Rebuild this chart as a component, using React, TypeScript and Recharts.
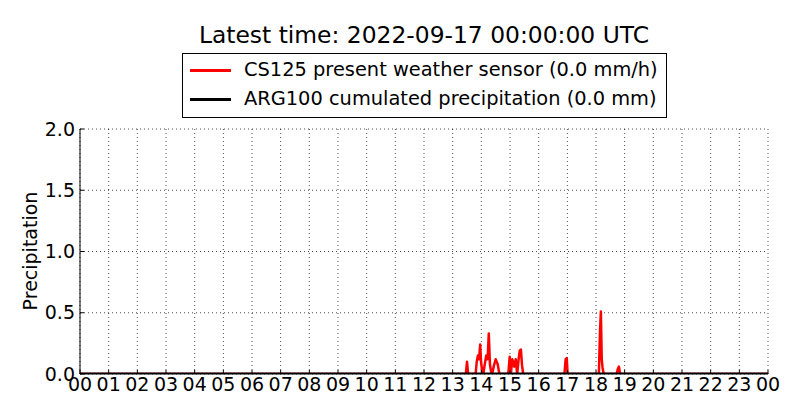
import React from "react";
import { LineChart, Line, XAxis, YAxis, CartesianGrid } from "recharts";

// hours of day (UTC) and CS125 precipitation intensity, mm/h
const sensorHours = [
  0, 13.46, 13.5, 13.54, 13.58, 13.8, 13.84, 13.88, 13.92, 13.96, 13.99, 14.03, 14.07, 14.12,
  14.17, 14.22, 14.26, 14.3, 14.34, 14.38, 14.43, 14.5, 14.57, 14.63, 14.68, 14.74,
  14.94, 14.99, 15.03, 15.08, 15.15, 15.2, 15.25, 15.3, 15.34, 15.38, 15.42, 15.46, 15.51,
  16.9, 16.94, 16.98, 17.01, 18.1, 18.14, 18.17, 18.2, 18.23, 18.27, 18.31,
  18.72, 18.76, 18.8, 18.84, 24,
];
const sensorValues = [
  0, 0, 0.1, 0, 0, 0, 0.1, 0.15, 0.12, 0.24, 0.1, 0.02, 0, 0.08,
  0.15, 0.12, 0.33, 0.08, 0.02, 0, 0.06, 0.12, 0.08, 0, 0, 0,
  0, 0.14, 0, 0.12, 0.06, 0.12, 0, 0.12, 0.19, 0.2, 0.07, 0, 0,
  0, 0.12, 0.13, 0, 0, 0.35, 0.51, 0.12, 0.05, 0, 0,
  0, 0.04, 0.06, 0, 0,
];
// ARG100 cumulated precipitation, mm
const gaugeHours = [0, 24];
const gaugeValues = [0, 0];

const hourTicks = [0, 1, 2, 3, 4, 5, 6, 7, 8, 9, 10, 11, 12, 13, 14, 15, 16, 17, 18, 19, 20, 21, 22, 23, 24];
const valueTicks = [0, 0.5, 1, 1.5, 2];

const sensorData = sensorHours.map((t, i) => ({ t, v: sensorValues[i] }));
const gaugeData = gaugeHours.map((t, i) => ({ t, v: gaugeValues[i] }));

const FONT = "DejaVu Sans";

const BottomTick = (props: any) => {
  const { x, y, payload } = props;
  const label = String(payload.value % 24).padStart(2, "0");
  return (
    <g>
      <line x1={x} x2={x} y1={y - 4} y2={y - 8} stroke="#000" />
      <text x={x} y={y} dy="0.71em" textAnchor="middle" fontSize={19} fill="#000" fontFamily={FONT}>
        {label}
      </text>
    </g>
  );
};

const LeftTick = (props: any) => {
  const { x, y, payload } = props;
  return (
    <g>
      <line x1={x + 5} x2={x + 9} y1={y} y2={y} stroke="#000" />
      <text x={x} y={y} dy="0.355em" textAnchor="end" fontSize={19} fill="#000" fontFamily={FONT}>
        {payload.value.toFixed(1)}
      </text>
    </g>
  );
};

const TopTick = (props: any) => {
  const { x, y } = props;
  return <line x1={x} x2={x} y1={y} y2={y + 4} stroke="#000" />;
};

const RightTick = (props: any) => {
  const { x, y } = props;
  return <line x1={x} x2={x - 4} y1={y} y2={y} stroke="#000" />;
};

export default function App() {
  return (
    <div style={{ position: "absolute", left: 0, top: 0, width: 800, height: 420, background: "#fff", fontFamily: FONT }}>
      <div style={{ position: "absolute", left: 0, width: 848, top: 21, textAlign: "center", fontSize: 23.4, lineHeight: "28px" }}>
        Latest time: 2022-09-17 00:00:00 UTC
      </div>
      <div
        style={{
          position: "absolute", left: 182, top: 53, width: 483, height: 63,
          border: "1px solid #000", fontSize: 19.4,
        }}
      >
        {[
          { color: "#ff0000", text: "CS125 present weather sensor (0.0 mm/h)", top: 5 },
          { color: "#000000", text: "ARG100 cumulated precipitation (0.0 mm)", top: 34 },
        ].map((e) => (
          <div key={e.text} style={{ position: "absolute", left: 0, top: e.top, height: 22, width: 480 }}>
            <div style={{ position: "absolute", left: 7, top: 10, width: 41, height: 3, background: e.color }} />
            <div style={{ position: "absolute", left: 61, top: 0, lineHeight: "22px", whiteSpace: "nowrap" }}>{e.text}</div>
          </div>
        ))}
      </div>
      <div
        style={{
          position: "absolute", left: 30, top: 251, fontSize: 19, whiteSpace: "nowrap",
          transform: "translate(-50%, -50%) rotate(-90deg)",
        }}
      >
        Precipitation
      </div>
      <LineChart width={800} height={420} margin={{ top: 129, right: 32, left: 0, bottom: 0 }} style={{ position: "absolute", left: 0, top: 0 }}>
        <CartesianGrid stroke="#000" strokeDasharray="1 3" strokeWidth={0.7} />
        <XAxis
          dataKey="t" type="number" domain={[0, 24]} ticks={hourTicks} allowDataOverflow
          height={46} tickSize={0} tickMargin={4} tick={<BottomTick />}
          axisLine={{ stroke: "#000" }} interval={0}
        />
        <XAxis
          xAxisId="top" orientation="top" dataKey="t" type="number" domain={[0, 24]} ticks={hourTicks}
          height={0} tickSize={0} tickMargin={0} tick={<TopTick />} axisLine={{ stroke: "#000" }} interval={0}
        />
        <YAxis
          type="number" domain={[0, 2]} ticks={valueTicks} allowDataOverflow width={80}
          tickSize={0} tickMargin={5} tick={<LeftTick />} axisLine={{ stroke: "#000" }} interval={0}
        />
        <YAxis
          yAxisId="right" orientation="right" type="number" domain={[0, 2]} ticks={valueTicks}
          width={0} tickSize={0} tickMargin={0} tick={<RightTick />} axisLine={{ stroke: "#000" }} interval={0}
        />
        <Line
          data={sensorData} dataKey="v" type="linear" stroke="#ff0000" strokeWidth={2.5}
          dot={false} isAnimationActive={false} strokeLinejoin="round"
        />
        <Line
          data={gaugeData} dataKey="v" type="linear" stroke="#000" strokeWidth={3}
          dot={false} isAnimationActive={false}
        />
      </LineChart>
    </div>
  );
}
